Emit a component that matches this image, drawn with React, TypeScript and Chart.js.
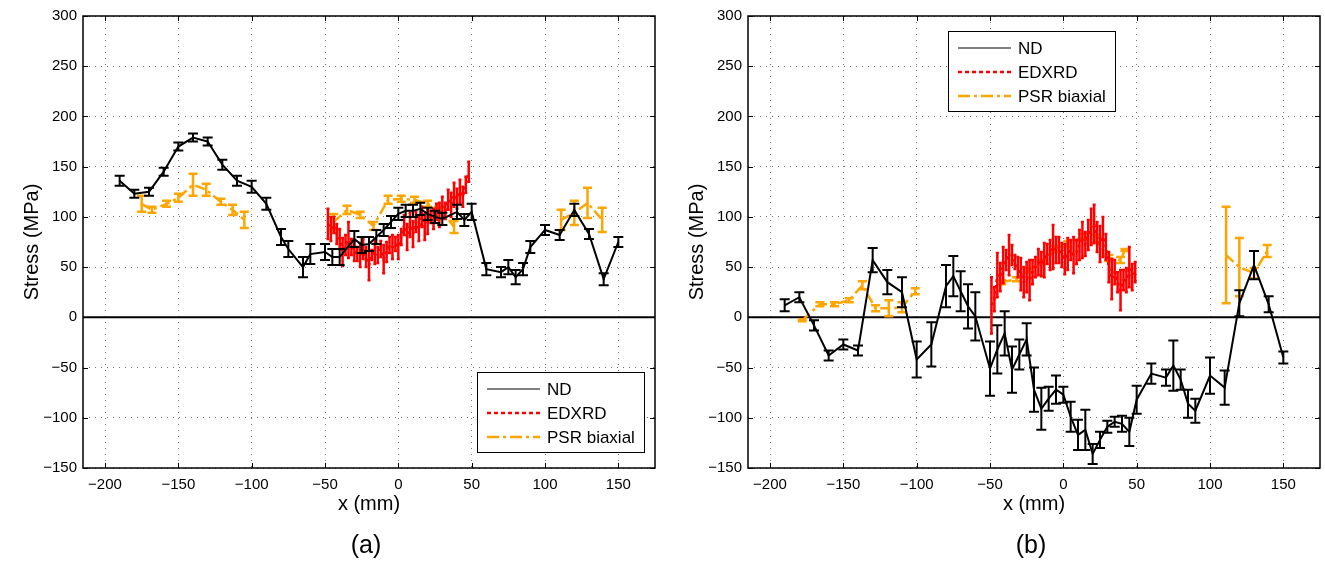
import React, { useEffect, useRef } from "react";
import { Chart, registerables } from "chart.js";

Chart.register(...registerables);

const FONT = "'Liberation Sans', Arial, Helvetica, sans-serif";

// ---- axis ticks ----
const xTicks = [-200, -150, -100, -50, 0, 50, 100, 150];
const yTicks = [-150, -100, -50, 0, 50, 100, 150, 200, 250, 300];
const xTitle = "x (mm)";
const yTitle = "Stress (MPa)";
const seriesNames = ["ND", "EDXRD", "PSR biaxial"];

// ---- panel (a) ----
const ndAX = [-190, -180, -170, -160, -150, -140, -130, -120, -110, -100, -90, -80, -75, -65, -60, -50, -45, -40, -30, -25, -20, -15, -10, -5, 0, 5, 10, 15, 20, 25, 30, 40, 45, 50, 60, 70, 75, 80, 85, 90, 100, 110, 120, 130, 140, 150];
const ndAY = [136, 123, 125, 145, 170, 179, 175, 152, 136, 130, 113, 80, 68, 50, 63, 65, 60, 60, 78, 72, 73, 80, 87, 95, 103, 106, 106, 108, 103, 100, 98, 105, 97, 105, 48, 45, 50, 40, 48, 70, 87, 82, 107, 83, 38, 75];
const ndAE = [5, 4, 4, 4, 4, 4, 4, 5, 5, 6, 6, 8, 8, 10, 10, 8, 8, 8, 8, 8, 7, 7, 6, 6, 6, 6, 6, 6, 6, 6, 6, 7, 6, 8, 6, 5, 7, 7, 6, 6, 5, 5, 6, 5, 6, 5];

const edAX = [-48, -46, -44, -42, -40, -38, -36, -34, -32, -30, -28, -26, -24, -22, -20, -18, -16, -14, -12, -10, -8, -6, -4, -2, 0, 2, 4, 6, 8, 10, 12, 14, 16, 18, 20, 22, 24, 26, 28, 30, 32, 34, 36, 38, 40, 42, 44, 46, 48];
const edAY = [93, 88, 92, 83, 78, 65, 72, 77, 70, 66, 63, 62, 68, 60, 52, 62, 65, 62, 68, 58, 65, 72, 70, 73, 70, 80, 92, 80, 92, 83, 95, 88, 100, 90, 95, 100, 98, 105, 102, 110, 106, 117, 112, 122, 118, 125, 120, 132, 145];
const edAE = [15, 12, 8, 10, 10, 14, 10, 18, 8, 10, 7, 12, 10, 10, 15, 5, 12, 8, 8, 14, 10, 8, 12, 7, 12, 8, 10, 13, 12, 13, 10, 12, 10, 13, 12, 6, 10, 8, 12, 10, 8, 10, 12, 12, 10, 12, 10, 8, 10];

const psAX = [-175, -168, -158, -150, -140, -131, -121, -113, -105, -75, -44, -35, -26, -17, -7, 2, 11, 20, 29, 38, 75, 111, 120, 129, 139];
const psAY = [113, 107, 113, 119, 132, 127, 115, 107, 97, null, 95, 107, 102, 91, 117, 118, 117, 113, 107, 90, null, 97, 104, 114, 97];
const psAE = [8, 3, 3, 4, 11, 6, 3, 5, 8, null, 8, 4, 3, 4, 4, 3, 3, 3, 3, 6, null, 10, 12, 15, 12];

// ---- panel (b) ----
const ndBX = [-190, -180, -170, -160, -150, -140, -130, -120, -110, -100, -90, -80, -75, -70, -65, -60, -50, -45, -40, -35, -30, -25, -20, -15, -10, -5, 0, 5, 10, 15, 20, 25, 30, 35, 40, 45, 50, 60, 70, 75, 80, 85, 90, 100, 110, 120, 130, 140, 150];
const ndBY = [12, 20, -8, -38, -27, -33, 57, 35, 25, -42, -27, 31, 41, 26, 11, 1, -51, -32, -16, -52, -37, -22, -72, -91, -81, -72, -77, -99, -117, -112, -136, -122, -109, -104, -106, -114, -82, -56, -60, -48, -62, -86, -93, -58, -70, 14, 52, 13, -40];
const ndBE = [6, 5, 5, 5, 5, 5, 12, 12, 15, 18, 22, 21, 20, 20, 22, 24, 27, 24, 22, 23, 15, 16, 22, 21, 12, 14, 8, 15, 15, 20, 10, 8, 6, 5, 8, 14, 14, 10, 8, 25, 10, 14, 12, 18, 17, 13, 14, 8, 6];

const edBX = [-49, -47, -45, -43, -41, -39, -37, -35, -33, -31, -29, -27, -25, -23, -21, -19, -17, -15, -13, -11, -9, -7, -5, -3, -1, 1, 3, 5, 7, 9, 11, 13, 15, 17, 19, 21, 23, 25, 27, 29, 31, 33, 35, 37, 39, 41, 43, 45, 47, 49];
const edBY = [12, 18, 42, 40, 52, 57, 62, 62, 55, 50, 43, 35, 40, 37, 45, 50, 55, 53, 57, 63, 62, 70, 67, 67, 62, 58, 63, 67, 62, 65, 72, 77, 73, 82, 90, 93, 80, 73, 80, 70, 50, 38, 45, 35, 27, 37, 37, 50, 40, 45];
const edBE = [28, 12, 22, 14, 18, 10, 20, 10, 7, 10, 16, 15, 15, 20, 12, 10, 13, 12, 17, 10, 15, 22, 13, 13, 12, 15, 16, 10, 18, 12, 15, 18, 12, 15, 18, 19, 15, 18, 20, 13, 15, 20, 12, 10, 20, 10, 12, 20, 13, 10];

const psBX = [-178, -166, -156, -146, -137, -128, -119, -110, -101, -70, -42, -32, -24, -15, -6, 3, 13, 22, 31, 39, 42, 75, 111, 120, 130, 139];
const psBY = [-3, 13, 13, 17, 32, 9, 9, 10, 26, null, 35, 38, 47, 55, 68, 73, 80, 78, 59, 57, 67, null, 62, 50, 44, 66];
const psBE = [1, 2, 2, 2, 4, 3, 8, 5, 3, null, 2, 2, 2, 2, 3, 3, 3, 4, 3, 3, 1, null, 48, 29, 5, 6];

type Style = { color: string; width: number; dash: number[]; cap: number; barDash: number[]; legColor: string; legWidth: number; legDash: number[] };

const STYLES: Style[] = [
  { color: "#000000", width: 2, dash: [], cap: 10, barDash: [], legColor: "#555555", legWidth: 1.5, legDash: [] },
  { color: "#ff0000", width: 2.5, dash: [3, 3], cap: 3, barDash: [], legColor: "#ff0000", legWidth: 2.5, legDash: [4, 3] },
  { color: "#ffa500", width: 2.5, dash: [10, 4, 3, 4], cap: 9, barDash: [], legColor: "#ffa500", legWidth: 2.5, legDash: [12, 4, 3, 4] },
];

type PanelDef = {
  tag: string;
  xs: (number)[][];
  ys: (number | null)[][];
  es: (number | null)[][];
  padL: number;
  padR: number;
  legX: number;
  legY: number;
};

const PANELS: PanelDef[] = [
  { tag: "(a)", xs: [ndAX, edAX, psAX], ys: [ndAY, edAY, psAY], es: [ndAE, edAE, psAE], padL: 0, padR: 7, legX: 477, legY: 372 },
  { tag: "(b)", xs: [ndBX, edBX, psBX], ys: [ndBY, edBY, psBY], es: [ndBE, edBE, psBE], padL: 3, padR: 5, legX: 286, legY: 31 },
];

const fmt = (v: number) => (v < 0 ? "\u2212" + Math.abs(v) : String(v));

function makePlugin(p: PanelDef) {
  return {
    id: "matlabStyle" + p.tag,
    beforeDatasetsDraw(chart: any) {
      const { ctx, chartArea: a, scales } = chart;
      const y0 = scales.y.getPixelForValue(0);
      ctx.save();
      ctx.strokeStyle = "#000";
      ctx.lineWidth = 2;
      ctx.setLineDash([]);
      ctx.beginPath();
      ctx.moveTo(a.left, y0);
      ctx.lineTo(a.right, y0);
      ctx.stroke();
      ctx.restore();
    },
    afterDatasetDraw(chart: any, args: any) {
      const i = args.index;
      const st = STYLES[i];
      const { ctx, chartArea: a, scales } = chart;
      const xs = p.xs[i], ys = p.ys[i], es = p.es[i];
      ctx.save();
      ctx.beginPath();
      ctx.rect(a.left, a.top, a.right - a.left, a.bottom - a.top);
      ctx.clip();
      ctx.strokeStyle = st.color;
      ctx.lineWidth = st.width;
      ctx.setLineDash(st.barDash);
      for (let k = 0; k < xs.length; k++) {
        const y = ys[k];
        const e = es[k];
        if (y == null || e == null) continue;
        const px = scales.x.getPixelForValue(xs[k]);
        const t = scales.y.getPixelForValue(y + e);
        const b = scales.y.getPixelForValue(y - e);
        const h = st.cap / 2;
        ctx.beginPath();
        ctx.moveTo(px, t);
        ctx.lineTo(px, b);
        ctx.moveTo(px - h, t);
        ctx.lineTo(px + h, t);
        ctx.moveTo(px - h, b);
        ctx.lineTo(px + h, b);
        ctx.stroke();
      }
      ctx.restore();
    },
    afterDraw(chart: any) {
      const { ctx, chartArea: a, scales } = chart;
      ctx.save();
      ctx.setLineDash([]);
      // ticks inside on all sides
      ctx.strokeStyle = "#000";
      ctx.lineWidth = 1;
      ctx.beginPath();
      xTicks.forEach((v) => {
        const px = Math.round(scales.x.getPixelForValue(v)) + 0.5;
        ctx.moveTo(px, a.bottom);
        ctx.lineTo(px, a.bottom - 5);
        ctx.moveTo(px, a.top);
        ctx.lineTo(px, a.top + 5);
      });
      yTicks.forEach((v) => {
        const py = Math.round(scales.y.getPixelForValue(v)) + 0.5;
        ctx.moveTo(a.left, py);
        ctx.lineTo(a.left + 5, py);
        ctx.moveTo(a.right, py);
        ctx.lineTo(a.right - 5, py);
      });
      ctx.stroke();
      // box
      ctx.lineWidth = 1.5;
      ctx.strokeRect(a.left, a.top, a.right - a.left, a.bottom - a.top);
      // legend
      const w = 167, h = 80;
      ctx.fillStyle = "#fff";
      ctx.fillRect(p.legX, p.legY, w, h);
      ctx.lineWidth = 1;
      ctx.strokeStyle = "#000";
      ctx.strokeRect(p.legX + 0.5, p.legY + 0.5, w, h);
      seriesNames.forEach((name, i) => {
        const st = STYLES[i];
        const y = p.legY + 17 + i * 24;
        ctx.beginPath();
        ctx.strokeStyle = st.legColor;
        ctx.lineWidth = st.legWidth;
        ctx.setLineDash(st.legDash);
        ctx.moveTo(p.legX + 10, y);
        ctx.lineTo(p.legX + 63, y);
        ctx.stroke();
        ctx.setLineDash([]);
        ctx.fillStyle = "#000";
        ctx.font = `17px ${FONT}`;
        ctx.textBaseline = "middle";
        ctx.textAlign = "left";
        ctx.fillText(name, p.legX + 70, y + 1);
      });
      // panel tag
      ctx.font = `25px ${FONT}`;
      ctx.textAlign = "center";
      ctx.textBaseline = "middle";
      ctx.fillStyle = "#000";
      ctx.fillText(p.tag, (a.left + a.right) / 2 - 3, 546);
      ctx.restore();
    },
  };
}

function makeConfig(p: PanelDef): any {
  const datasets = seriesNames.map((name, i) => ({
    label: name,
    data: p.xs[i].map((x, k) => ({ x, y: p.ys[i][k] })),
    borderColor: STYLES[i].color,
    backgroundColor: STYLES[i].color,
    borderWidth: STYLES[i].width,
    borderDash: STYLES[i].dash,
    pointRadius: 0,
    fill: false,
    tension: 0,
    spanGaps: false,
  }));
  return {
    type: "line",
    data: { datasets },
    options: {
      animation: false,
      responsive: false,
      maintainAspectRatio: false,
      layout: { padding: { left: p.padL, right: p.padR, top: 16, bottom: 45 } },
      plugins: { legend: { display: false }, tooltip: { enabled: false }, title: { display: false } },
      scales: {
        x: {
          type: "linear",
          min: -215,
          max: 175,
          afterBuildTicks: (s: any) => {
            s.ticks = xTicks.map((v) => ({ value: v }));
          },
          afterFit: (s: any) => {
            s.height = 52;
          },
          grid: { color: "rgba(0,0,0,0.55)", lineWidth: 1, drawTicks: false },
          border: { display: false, dash: [1, 5] },
          ticks: { padding: 8, color: "#000", font: { family: FONT, size: 15 }, maxRotation: 0, autoSkip: false, callback: (v: number) => fmt(v) },
          title: { display: true, text: xTitle, color: "#000", font: { family: FONT, size: 20 }, padding: { top: 0, bottom: 4 } },
        },
        y: {
          type: "linear",
          min: -150,
          max: 300,
          afterBuildTicks: (s: any) => {
            s.ticks = yTicks.map((v) => ({ value: v }));
          },
          afterFit: (s: any) => {
            s.width = 83;
          },
          grid: { color: "rgba(0,0,0,0.55)", lineWidth: 1, drawTicks: false },
          border: { display: false, dash: [1, 5] },
          ticks: { padding: 6, color: "#000", font: { family: FONT, size: 15 }, autoSkip: false, callback: (v: number) => fmt(v) },
          title: { display: true, text: yTitle, color: "#000", font: { family: FONT, size: 20 }, padding: { top: 20, bottom: 0 } },
        },
      },
    },
    plugins: [makePlugin(p)],
  };
}

function Panel({ p, left, width }: { p: PanelDef; left: number; width: number }) {
  const ref = useRef<HTMLCanvasElement>(null);
  useEffect(() => {
    if (!ref.current) return;
    const chart = new Chart(ref.current, makeConfig(p));
    return () => chart.destroy();
  }, [p]);
  return (
    <canvas
      ref={ref}
      width={width}
      height={565}
      style={{ position: "absolute", left, top: 0, width, height: 565 }}
    />
  );
}

export default function App() {
  return (
    <div style={{ position: "absolute", left: 0, top: 0, width: 1325, height: 565, background: "#fff", overflow: "hidden" }}>
      <Panel p={PANELS[0]} left={0} width={662} />
      <Panel p={PANELS[1]} left={662} width={663} />
    </div>
  );
}
